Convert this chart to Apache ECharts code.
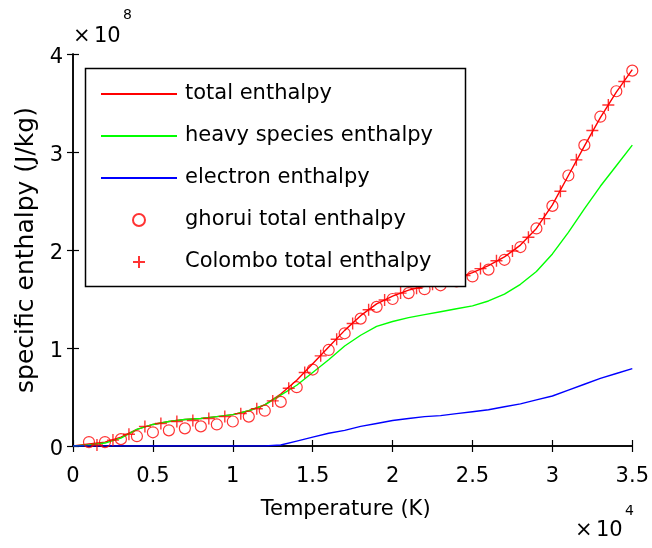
<!DOCTYPE html>
<html>
<head>
<meta charset="utf-8">
<script src="https://cdn.jsdelivr.net/npm/echarts@6/dist/echarts.min.js"></script>
<style>
html,body{margin:0;padding:0;background:#fff;}
#chart{width:652px;height:548px;}
</style>
</head>
<body>
<div id="chart"></div>
<script>
// ---- data (temperature in K, enthalpy in units of 1e8 J/kg) ----
const temperatureK = [0,1000,2000,3000,4000,5000,6000,7000,8000,9000,10000,11000,12000,13000,14000,15000,16000,17000,18000,19000,20000,21000,22000,23000,24000,25000,26000,27000,28000,29000,30000,31000,32000,33000,34000,35000];
const totalEnthalpy = [0.00,0.02,0.04,0.09,0.17,0.22,0.25,0.27,0.28,0.30,0.32,0.36,0.42,0.53,0.67,0.84,1.01,1.18,1.33,1.45,1.53,1.59,1.63,1.67,1.71,1.77,1.84,1.93,2.05,2.22,2.46,2.76,3.06,3.35,3.61,3.84];
const heavyEnthalpy = [0.00,0.01,0.03,0.08,0.17,0.22,0.25,0.27,0.28,0.30,0.32,0.36,0.42,0.52,0.62,0.75,0.88,1.02,1.13,1.22,1.27,1.31,1.34,1.37,1.40,1.43,1.48,1.55,1.65,1.78,1.96,2.18,2.42,2.65,2.86,3.07];
const electronEnthalpy = [0,0,0,0,0,0,0,0,0,0,0,0,0,0.01,0.05,0.09,0.13,0.16,0.20,0.23,0.26,0.28,0.30,0.31,0.33,0.35,0.37,0.40,0.43,0.47,0.51,0.57,0.63,0.69,0.74,0.79];
const ghoruiT = [1000,2000,3000,4000,5000,6000,7000,8000,9000,10000,11000,12000,13000,14000,15000,16000,17000,18000,19000,20000,21000,22000,23000,24000,25000,26000,27000,28000,29000,30000,31000,32000,33000,34000,35000];
const ghoruiTotal = [0.04,0.04,0.07,0.10,0.14,0.16,0.18,0.20,0.22,0.25,0.30,0.36,0.45,0.60,0.78,0.98,1.15,1.30,1.42,1.50,1.56,1.60,1.64,1.68,1.73,1.80,1.90,2.03,2.22,2.45,2.76,3.07,3.36,3.62,3.83];
const colomboT = [1500,2500,3500,4500,5500,6500,7500,8500,9500,10500,11500,12500,13500,14500,15500,16500,17500,18500,19500,20500,21500,22500,23500,24500,25500,26500,27500,28500,29500,30500,31500,32500,33500,34500];
const colomboTotal = [0.01,0.06,0.12,0.20,0.23,0.25,0.26,0.28,0.30,0.33,0.38,0.46,0.59,0.75,0.92,1.09,1.25,1.39,1.49,1.56,1.61,1.65,1.69,1.74,1.81,1.89,1.99,2.13,2.32,2.60,2.92,3.22,3.48,3.72];
const seriesNames = ['total enthalpy','heavy species enthalpy','electron enthalpy','ghorui total enthalpy','Colombo total enthalpy'];
const xTickLabels = ['0','0.5','1','1.5','2','2.5','3','3.5'];
const yTickLabels = ['0','1','2','3','4'];

const FONT = 'DejaVu Sans';
const pair = (xs, ys) => xs.map((x, i) => [x, ys[i]]);
const axisLine = {show: true, lineStyle: {color: '#000', width: 1.5}};
const axisTick = {show: true, inside: true, length: 6, lineStyle: {color: '#000', width: 1.2}};
const hiddenDot = {color: 'rgba(0,0,0,0)', borderColor: 'rgba(0,0,0,0)', borderWidth: 0};

const chart = echarts.init(document.getElementById('chart'), null, {renderer: 'canvas'});
chart.setOption({
  animation: false,
  backgroundColor: '#ffffff',
  textStyle: {fontFamily: FONT},
  grid: {left: 73, top: 54, width: 560, height: 392, containLabel: false},
  xAxis: [
    {type: 'value', min: 0, max: 35000, interval: 5000, position: 'bottom',
     name: 'Temperature (K)', nameLocation: 'middle', nameGap: 53,
     nameTextStyle: {fontSize: 21, color: '#000', fontFamily: FONT, padding: [0, 14, 0, 0]},
     axisLine: axisLine, axisTick: axisTick, splitLine: {show: false},
     axisLabel: {margin: 20, fontSize: 21, color: '#000', fontFamily: FONT,
       formatter: v => xTickLabels[Math.round(v / 5000)]}},
    {type: 'value', min: 0, max: 35000, interval: 5000, position: 'top',
     axisLine: axisLine, axisTick: axisTick, splitLine: {show: false}, axisLabel: {show: false}}
  ],
  yAxis: [
    {type: 'value', min: 0, max: 4, interval: 1, position: 'left',
     name: 'specific enthalpy (J/kg)', nameLocation: 'middle', nameGap: 21,
     nameTextStyle: {fontSize: 25, color: '#000', fontFamily: FONT},
     axisLine: axisLine, axisTick: axisTick, splitLine: {show: false},
     axisLabel: {margin: 10, color: '#000', fontFamily: FONT,
       formatter: v => '{t|' + yTickLabels[Math.round(v)] + '}',
       rich: {t: {fontSize: 21, fontFamily: FONT, color: '#000', padding: [8, 0, 0, 0]}}}},
    {type: 'value', min: 0, max: 4, interval: 1, position: 'right',
     axisLine: axisLine, axisTick: axisTick, splitLine: {show: false}, axisLabel: {show: false}}
  ],
  legend: {
    orient: 'vertical', left: 100, top: 83, padding: 0,
    itemWidth: 76, itemHeight: 12, itemGap: 20,
    data: [
      {name: seriesNames[0], itemStyle: hiddenDot},
      {name: seriesNames[1], itemStyle: hiddenDot},
      {name: seriesNames[2], itemStyle: hiddenDot},
      {name: seriesNames[3]},
      {name: seriesNames[4]}
    ],
    textStyle: {fontSize: 21, color: '#000', fontFamily: FONT, lineHeight: 22, padding: [0, 0, 0, 3]}
  },
  graphic: [
    {type: 'rect', z: 3, shape: {x: 85.5, y: 68.5, width: 380, height: 218},
     style: {fill: '#fff', stroke: '#000', lineWidth: 1.5}},
    {type: 'text', z: 5, style: {x: 73, y: 37, text: '×', fontSize: 21, fontFamily: FONT, fill: '#000', verticalAlign: 'middle'}},
    {type: 'text', z: 5, style: {x: 94, y: 37, text: '10', fontSize: 21, fontFamily: FONT, fill: '#000', verticalAlign: 'middle'}},
    {type: 'text', z: 5, style: {x: 123, y: 15, text: '8', fontSize: 14, fontFamily: FONT, fill: '#000', verticalAlign: 'middle'}},
    {type: 'text', z: 5, style: {x: 575, y: 531, text: '×', fontSize: 21, fontFamily: FONT, fill: '#000', verticalAlign: 'middle'}},
    {type: 'text', z: 5, style: {x: 596, y: 531, text: '10', fontSize: 21, fontFamily: FONT, fill: '#000', verticalAlign: 'middle'}},
    {type: 'text', z: 5, style: {x: 625, y: 511, text: '4', fontSize: 14, fontFamily: FONT, fill: '#000', verticalAlign: 'middle'}}
  ],
  series: [
    {name: seriesNames[0], type: 'line', symbol: 'none', data: pair(temperatureK, totalEnthalpy),
     lineStyle: {color: '#ff0000', width: 1.4}, itemStyle: {color: '#ff0000'}, z: 2},
    {name: seriesNames[1], type: 'line', symbol: 'none', data: pair(temperatureK, heavyEnthalpy),
     lineStyle: {color: '#00ff00', width: 1.4}, itemStyle: {color: '#00ff00'}, z: 2},
    {name: seriesNames[2], type: 'line', symbol: 'none', data: pair(temperatureK, electronEnthalpy),
     lineStyle: {color: '#0000ff', width: 1.4}, itemStyle: {color: '#0000ff'}, z: 2},
    {name: seriesNames[3], type: 'scatter', symbol: 'circle', symbolSize: 11, data: pair(ghoruiT, ghoruiTotal),
     itemStyle: {color: 'none', borderColor: '#ff0000', borderWidth: 1.2}, z: 2},
    {name: seriesNames[4], type: 'scatter', symbol: 'path://M0,6H12M6,0V12', symbolSize: 12, data: pair(colomboT, colomboTotal),
     itemStyle: {color: 'none', borderColor: '#ff0000', borderWidth: 1.4}, z: 2}
  ]
});
</script>
</body>
</html>
